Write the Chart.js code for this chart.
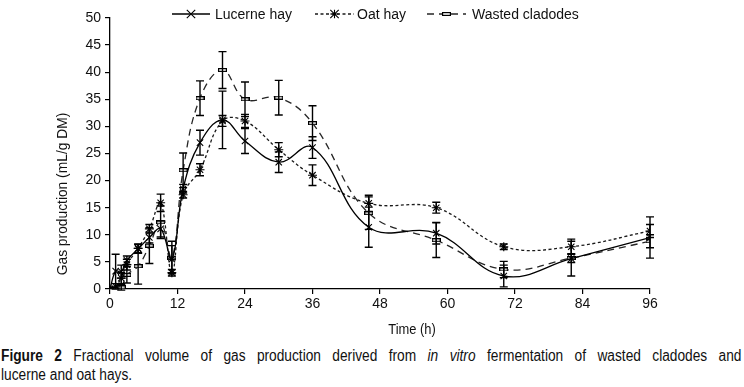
<!DOCTYPE html>
<html>
<head>
<meta charset="utf-8">
<script src="https://cdn.jsdelivr.net/npm/chart.js@4.4.1/dist/chart.umd.min.js"></script>
<style>
  html, body { margin: 0; padding: 0; background: #fff; }
  #wrap { position: relative; width: 744px; height: 387px; overflow: hidden; }
  #chart { position: absolute; left: 0; top: 0; }
  /* the caption uses a condensed face; squeeze a regular one to match */
  #caption {
    position: absolute; left: 1px; top: 347px; width: 864px;
    transform: scaleX(0.857); transform-origin: 0 0;
    font-family: "Liberation Sans", Arial, sans-serif;
    font-size: 16px; line-height: 18.5px; color: #111;
  }
  #caption .l1 { text-align: justify; text-align-last: justify; }
</style>
</head>
<body>
<div id="wrap">
  <canvas id="chart" width="744" height="345"></canvas>
  <div id="caption">
    <div class="l1"><b>Figure 2</b> Fractional volume of gas production derived from <i>in vitro</i> fermentation of wasted cladodes and</div>
    <div>lucerne and oat hays.</div>
  </div>
</div>
<script>
/* ---------------------------------------------------------
   Data
--------------------------------------------------------- */
const times = [0, 1, 2, 3, 5, 7, 9, 11, 13, 16, 20, 24, 30, 36, 46, 58, 70, 82, 96];

const lucerne    = [0, 3.3, 3.2, 5.3, 7.4, 9.5, 11.1, 5.5, 18.5, 27.0, 31.2, 27.3, 23.4, 26.1, 11.4, 10.3, 2.4, 5.6, 9.5];
const lucerneErr = [0, 3.1, 1.2, 0.8, 0.8, 1.0, 1.5, 2.5, 0.8, 2.3, 5.3, 2.3, 1.9, 2.0, 3.7, 2.0, 2.0, 3.2, 3.8];

const oat    = [0, 0.5, 2.0, 4.5, 7.5, 11.1, 15.9, 3.0, 17.4, 22.0, 31.0, 31.0, 25.7, 21.0, 15.8, 15.0, 7.8, 7.8, 10.7];
const oatErr = [0, 0.5, 1.0, 1.0, 0.8, 0.8, 1.6, 0.6, 0.6, 1.1, 1.0, 1.2, 1.3, 1.9, 1.5, 1.0, 0.5, 1.4, 1.2];

const cladodes    = [0, 0, 0.3, 2.6, 4.2, 8.0, 12.3, 5.8, 21.9, 35.2, 40.4, 35.0, 35.3, 30.6, 14.0, 9.0, 3.6, 5.7, 8.8];
const cladodesErr = [0, 0, 0.5, 1.5, 3.3, 3.3, 3.0, 3.0, 3.2, 3.2, 3.4, 3.2, 3.2, 3.2, 3.0, 3.2, 1.5, 0.8, 1.2];

const seriesNames = ["Lucerne hay", "Oat hay", "Wasted cladodes"];

const xMin = 0, xMax = 96, xStep = 12;
const yMin = 0, yMax = 50, yStep = 5;

const xTitle = "Time (h)";
const yTitle = "Gas production (mL/g DM)";

/* ---------------------------------------------------------
   Marker for the cladodes series (thin hollow rectangle)
--------------------------------------------------------- */
function makeRectMarker() {
  const c = document.createElement("canvas");
  c.width = 9; c.height = 4;
  const g = c.getContext("2d");
  g.fillStyle = "#fff";
  g.fillRect(0, 0, 9, 4);
  g.strokeStyle = "#000";
  g.lineWidth = 1.2;
  g.strokeRect(0.6, 0.6, 7.8, 2.8);
  return c;
}
const rectMarker = makeRectMarker();

const FONT = "'Liberation Sans', Arial, sans-serif";

const series = [
  { name: seriesNames[0], values: lucerne, err: lucerneErr, dash: [], color: "#000", marker: "crossRot" },
  { name: seriesNames[1], values: oat, err: oatErr, dash: [3, 2.5], color: "#1a1a1a", marker: "star" },
  { name: seriesNames[2], values: cladodes, err: cladodesErr, dash: [7, 5], color: "#262626", marker: rectMarker },
];

/* ---------------------------------------------------------
   Error bars
--------------------------------------------------------- */
const errorBars = {
  id: "errorBars",
  afterDatasetsDraw(chart) {
    const { ctx, scales: { x, y } } = chart;
    ctx.save();
    ctx.strokeStyle = "#000";
    ctx.lineWidth = 1.4;
    series.forEach((s) => {
      s.values.forEach((v, i) => {
        const e = s.err[i];
        if (!e) return;
        const px = x.getPixelForValue(times[i]);
        const top = y.getPixelForValue(v + e);
        const bot = y.getPixelForValue(v - e);
        ctx.beginPath();
        ctx.moveTo(px, top); ctx.lineTo(px, bot);
        ctx.moveTo(px - 4, top); ctx.lineTo(px + 4, top);
        ctx.moveTo(px - 4, bot); ctx.lineTo(px + 4, bot);
        ctx.stroke();
      });
    });
    ctx.restore();
  },
};

/* ---------------------------------------------------------
   Legend along the top + axis titles
--------------------------------------------------------- */
function drawMarker(ctx, kind, cx, cy) {
  ctx.beginPath();
  if (kind === "crossRot" || kind === "star") {
    const r = 4.2;
    ctx.moveTo(cx - r, cy - r); ctx.lineTo(cx + r, cy + r);
    ctx.moveTo(cx - r, cy + r); ctx.lineTo(cx + r, cy - r);
    if (kind === "star") {
      ctx.moveTo(cx, cy - r); ctx.lineTo(cx, cy + r);
      ctx.moveTo(cx - r, cy); ctx.lineTo(cx + r, cy);
    }
    ctx.stroke();
  } else {
    ctx.drawImage(kind, cx - 4.5, cy - 2);
  }
}

const legendAndTitles = {
  id: "legendAndTitles",
  afterDraw(chart) {
    const { ctx } = chart;
    const slots = [
      { x0: 172, x1: 210, tx: 215 },
      { x0: 315, x1: 354, tx: 357 },
      { x0: 427, x1: 466, tx: 472 },
    ];
    const ly = 14;
    ctx.save();
    series.forEach((s, i) => {
      const sl = slots[i];
      ctx.strokeStyle = s.color;
      ctx.lineWidth = 1.3;
      ctx.setLineDash(s.dash);
      ctx.beginPath();
      ctx.moveTo(sl.x0, ly); ctx.lineTo(sl.x1, ly);
      ctx.stroke();
      ctx.setLineDash([]);
      ctx.lineWidth = 1.1;
      ctx.strokeStyle = "#000";
      drawMarker(ctx, s.marker, (sl.x0 + sl.x1) / 2, ly);
      ctx.fillStyle = "#111";
      ctx.font = "14px " + FONT;
      ctx.textAlign = "left";
      ctx.textBaseline = "middle";
      ctx.fillText(s.name, sl.tx, ly + 1);
    });

    // y title
    ctx.save();
    ctx.translate(63, 194);
    ctx.rotate(-Math.PI / 2);
    ctx.font = "13.8px " + FONT;
    ctx.textAlign = "center";
    ctx.textBaseline = "middle";
    ctx.fillText(yTitle, 0, 0);
    ctx.restore();

    // x title, condensed like the original
    ctx.save();
    ctx.translate(412, 330);
    ctx.scale(0.86, 1);
    ctx.font = "15px " + FONT;
    ctx.textAlign = "center";
    ctx.textBaseline = "middle";
    ctx.fillText(xTitle, 0, 0);
    ctx.restore();
    ctx.restore();
  },
};

/* ---------------------------------------------------------
   Chart
--------------------------------------------------------- */
new Chart(document.getElementById("chart").getContext("2d"), {
  type: "line",
  data: {
    datasets: series.map((s) => ({
      label: s.name,
      data: times.map((t, i) => ({ x: t, y: s.values[i] })),
      borderColor: s.color,
      borderWidth: 1.3,
      borderDash: s.dash,
      tension: 0.4,
      fill: false,
      pointStyle: s.marker,
      pointRadius: 4.5,
      pointBorderWidth: 1.1,
      pointBorderColor: "#000",
      pointBackgroundColor: "#fff",
    })),
  },
  options: {
    responsive: false,
    animation: false,
    layout: { padding: { top: 18, right: 94, left: 0, bottom: 0 } },
    plugins: { legend: { display: false }, tooltip: { enabled: false } },
    scales: {
      x: {
        type: "linear",
        min: xMin,
        max: xMax,
        afterFit: (s) => { s.height = 56; },
        ticks: { stepSize: xStep, color: "#111", font: { family: FONT, size: 14 }, padding: 2, maxRotation: 0 },
        grid: { drawOnChartArea: false, drawTicks: true, tickLength: 5, color: "#000", lineWidth: 1.2 },
        border: { color: "#000", width: 1.3 },
      },
      y: {
        min: yMin,
        max: yMax,
        afterFit: (s) => { s.width = 110; },
        ticks: { stepSize: yStep, color: "#111", font: { family: FONT, size: 14 }, padding: 4 },
        grid: { drawOnChartArea: false, drawTicks: true, tickLength: 5, color: "#000", lineWidth: 1.2 },
        border: { color: "#000", width: 1.3 },
      },
    },
  },
  plugins: [errorBars, legendAndTitles],
});
</script>
</body>
</html>
